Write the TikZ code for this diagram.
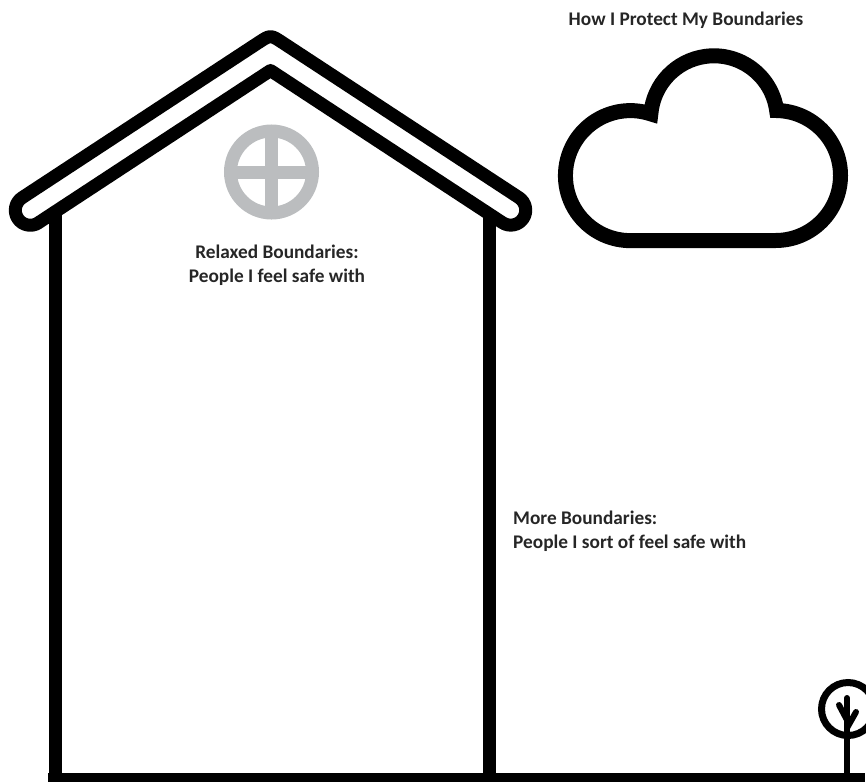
\documentclass[tikz,border=0pt]{standalone}
\usepackage{fontspec}
\setmainfont{Carlito}
\definecolor{winGray}{HTML}{BBBDBF}
\tikzset{
  thick line/.style={line width=13pt,black,line join=round},
  tree line/.style={line width=6pt,black,line cap=round},
  label text/.style={font=\fontsize{19.3}{24}\selectfont\bfseries,text=black!85,inner sep=0pt},
}
\begin{document}
\begin{tikzpicture}[x=1pt,y=-1pt]
\useasboundingbox (0,0) rectangle (866,782);
\clip (0,0) rectangle (866,782);
% walls
\fill[black] (48,782) rectangle (865,773);
\draw[thick line] (55,778) -- (55,212);
\draw[thick line] (489.5,778) -- (489.5,212);
% roof
\draw[thick line,fill=white] (38.5,222.7) -- (270.5,70.5) -- (502.5,222.7)
  arc[start angle=123.2,end angle=-56.8,radius=15] -- (282.5,42.6)
  .. controls (270.5,34.7) and (270.5,34.7) .. (258.5,42.6) -- (22.1,197.7)
  arc[start angle=-123.2,end angle=-303.2,radius=15] -- cycle;
% window
\draw[line width=13pt,color=winGray] (271.5,172) circle[radius=41];
\fill[winGray] (265,131) rectangle (278,213);
\fill[winGray] (230,165.5) rectangle (313,178.5);
% cloud
\draw[line width=15pt,black,line join=miter,fill=white] (630.5,240.5) -- (775.5,240.5)
  arc[start angle=90,end angle=-89,radius=65]
  arc[start angle=-7.8,end angle=-175.3,radius=63.3]
  arc[start angle=-71.7,end angle=-270,radius=65] -- cycle;
% tree
\draw[line width=6pt,black] (847,773) -- (847,700);
\draw[tree line] (847,698) -- (847,706);
\draw[tree line] (839,705) -- (847,720);
\draw[tree line] (856,712) -- (847,728);
\draw[line width=7pt,black] (848,709) circle[radius=26.5];
% labels
\node[label text] (title) at (686,20.5) {How I Protect My Boundaries};
\node[label text,align=center] (relaxed) at (277,265) {Relaxed Boundaries:\\People I feel safe with};
\node[label text,align=left,anchor=west] (more) at (513,531) {More Boundaries:\\People I sort of feel safe with};
\end{tikzpicture}
\end{document}
